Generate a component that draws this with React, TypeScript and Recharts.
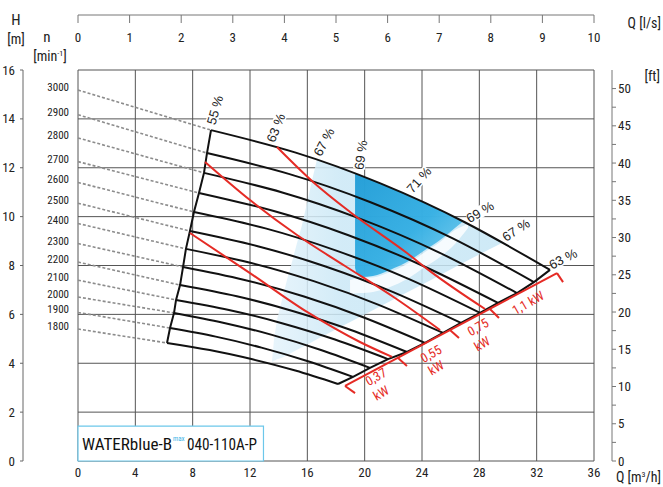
import React from 'react';
import { ComposedChart, Line, Area, Scatter, XAxis, YAxis, CartesianGrid, ReferenceArea } from 'recharts';

const FONT_N = "'Liberation Sans Narrow','Arial Narrow','Roboto Condensed','Liberation Sans',Arial,sans-serif";
const FONT = "'Liberation Sans',Arial,sans-serif";
const RED = '#e52b25';

// axes ticks
const qTicks = [0, 4, 8, 12, 16, 20, 24, 28, 32, 36];
const lsTicks = [0, 1, 2, 3, 4, 5, 6, 7, 8, 9, 10];
const hTicks = [0, 2, 4, 6, 8, 10, 12, 14, 16];
const ftTicks = [0, 2.5, 5, 7.5, 10, 12.5, 15, 17.5, 20, 22.5, 25, 27.5, 30, 32.5, 35, 37.5, 40, 42.5, 45, 47.5, 50];
const FT_MAX = 16 * 3.28084;

// speed curves
const rpm = [3000, 2900, 2800, 2700, 2600, 2500, 2400, 2300, 2200, 2100, 2000, 1900, 1800];
const shutoffH = [15.18, 14.17, 13.22, 12.25, 11.4, 10.55, 9.72, 8.9, 8.14, 7.4, 6.71, 6.08, 5.4];
const curveQ = [
  [9.28, 15.19, 21.1, 27.02, 32.93],
  [9.0, 14.7, 20.41, 26.11, 31.81],
  [8.79, 14.25, 19.71, 25.17, 30.63],
  [8.44, 13.66, 18.87, 24.09, 29.3],
  [8.09, 13.08, 18.07, 23.06, 28.05],
  [7.81, 12.54, 17.27, 21.99, 26.72],
  [7.53, 12.02, 16.5, 20.98, 25.47],
  [7.33, 11.55, 15.77, 19.99, 24.21],
  [7.12, 11.08, 15.03, 18.99, 22.95],
  [6.84, 10.53, 14.23, 17.93, 21.63],
  [6.7, 10.12, 13.53, 16.95, 20.37],
  [6.42, 9.61, 12.8, 15.99, 19.19],
  [6.21, 9.19, 12.17, 15.16, 18.14],
];
const curveH = [
  [13.54, 12.62, 11.36, 9.76, 7.82],
  [12.6, 11.75, 10.59, 9.12, 7.32],
  [11.79, 10.99, 9.91, 8.54, 6.87],
  [10.97, 10.23, 9.24, 7.98, 6.47],
  [10.19, 9.52, 8.6, 7.45, 6.06],
  [9.41, 8.79, 7.96, 6.91, 5.65],
  [8.68, 8.11, 7.35, 6.39, 5.24],
  [7.94, 7.42, 6.73, 5.86, 4.83],
  [7.2, 6.74, 6.13, 5.37, 4.46],
  [6.59, 6.18, 5.64, 4.97, 4.17],
  [6.06, 5.66, 5.16, 4.54, 3.81],
  [5.44, 5.09, 4.64, 4.09, 3.44],
  [4.83, 4.54, 4.16, 3.7, 3.15],
];

// iso-power lines
const powerQ = [
  [7.81, 12.0, 15.98, 19.67, 21.91],
  [8.86, 12.0, 15.28, 18.63, 22.12, 25.26],
  [13.88, 16.4, 18.98, 22.95, 24.56, 28.4],
];
const powerH = [
  [9.33, 7.69, 6.1, 4.87, 4.26],
  [12.24, 10.68, 9.25, 7.98, 6.67, 5.36],
  [12.85, 11.42, 10.19, 8.51, 7.77, 6.22],
];

// power scale (red dimension line) and its ticks
const scaleQ = [18.63, 33.42];
const scaleH = [3.07, 7.69];
const scaleTickQ = [[18.63, 19.33], [22.33, 22.95], [25.95, 26.58], [28.74, 29.37], [33.42, 33.84]];
const scaleTickH = [[3.07, 2.78], [4.21, 3.89], [5.36, 5.03], [6.22, 5.85], [7.69, 7.32]];
const kwText = ['0,37', 'kW', '0,55', 'kW', '0,75', 'kW', '1,1 kW'];
const kwQ = [20.79, 21.14, 24.63, 24.98, 27.91, 28.19, 31.4];
const kwH = [3.44, 2.78, 4.38, 3.81, 5.48, 4.79, 6.47];

// efficiency zones
const lightQ = [13.53, 13.67, 13.88, 14.23, 14.58, 14.93, 15.28, 15.63, 15.98, 16.33, 16.67, 18.28, 20.37, 22.47, 24.56, 26.65, 28.05, 29.65];
const lightLo = [4.05, 4.09, 4.16, 4.22, 4.33, 4.44, 4.55, 4.65, 4.76, 4.87, 4.98, 5.47, 6.11, 6.75, 7.39, 8.04, 8.47, 8.94];
const lightHi = [4.05, 4.95, 5.77, 6.59, 7.41, 8.14, 8.92, 9.66, 10.56, 11.5, 12.32, 12.0, 11.53, 11.02, 10.46, 9.87, 9.44, 8.94];
const stripeQ = [18.98, 19.67, 20.58, 21.77, 22.95, 24.21, 25.26, 26.3, 27.21];
const stripeLo = [6.83, 6.87, 6.92, 7.12, 7.45, 7.94, 8.35, 8.88, 9.53];
const stripeHi = [7.41, 7.49, 7.51, 7.73, 8.06, 8.55, 8.96, 9.45, 9.7];
const darkQ = [19.33, 19.47, 19.81, 20.58, 21.77, 22.95, 24.21, 25.26, 26.3, 26.86];
const darkLo = [7.9, 7.65, 7.53, 7.57, 7.82, 8.14, 8.63, 9.04, 9.53, 9.8];
const darkHi = [11.77, 11.74, 11.66, 11.48, 11.19, 10.89, 10.56, 10.27, 9.96, 9.8];

const effText = ['55 %', '63 %', '67 %', '69 %', '71 %', '69 %', '67 %', '63 %'];
const effQ = [9.56, 13.81, 17.16, 19.74, 23.79, 28.05, 30.56, 33.84];
const effH = [14.36, 13.63, 13.05, 12.52, 11.5, 10.19, 9.45, 8.27];
const effAngle = [-74, -68, -62, -82, -48, -30, -33, -27];

const boxQ = [0, 12.94];
const boxH = [0, 1.43];

const pts = (qs: number[], hs: number[]) => qs.map((q, i) => ({ q, h: hs[i] }));

const FtTick = (p: any) => {
  const { x, y, payload } = p;
  const v = payload.value;
  return (
    <g>
      <line x1={x} x2={x + 4} y1={y} y2={y} stroke="#777" />
      {v % 5 === 0 ? (
        <text x={x + 6} y={y + 4.5} fontSize={13} fill="#222" fontFamily={FONT_N}>{v}</text>
      ) : null}
    </g>
  );
};

const RpmLabel = (p: any) => {
  const { cx, cy, payload } = p;
  return (
    <text x={cx - 9} y={cy - 2.5} textAnchor="end" dominantBaseline="central" fontSize={11} fill="#222" fontFamily={FONT_N}>
      {payload.t}
    </text>
  );
};

const EffLabel = (p: any) => {
  const { cx, cy, payload } = p;
  const w = payload.t.length * 7;
  return (
    <g transform={`translate(${cx},${cy}) rotate(${payload.a})`}>
      <rect x={-w / 2} y={-6} width={w} height={12} fill="#fff" />
      <text x={0} y={0} textAnchor="middle" dominantBaseline="central" fontSize={13} fill="#222" fontFamily={FONT}>{payload.t}</text>
    </g>
  );
};

const KwLabel = (p: any) => {
  const { cx, cy, payload } = p;
  return (
    <g transform={`translate(${cx},${cy}) rotate(-30)`}>
      <text x={0} y={0} textAnchor="middle" dominantBaseline="central" fontSize={13} fill={RED} fontFamily={FONT_N}>{payload.t}</text>
    </g>
  );
};

const BoxLabel = (p: any) => {
  const vb = p.viewBox || {};
  const x0 = vb.x + 4;
  const yb = vb.y + vb.height / 2 + 6;
  return (
    <g>
      <text x={x0} y={yb} fontSize={16} fill="#111" fontFamily={FONT_N} textLength={90} lengthAdjust="spacingAndGlyphs">WATERblue-B</text>
      <text x={x0 + 91} y={yb - 9} fontSize={7} fill="#3ab4e6" fontFamily={FONT_N}>max</text>
      <text x={x0 + 105} y={yb} fontSize={16} fill="#111" fontFamily={FONT_N} textLength={70} lengthAdjust="spacingAndGlyphs">040-110A-P</text>
    </g>
  );
};

const noDot = { dot: false as const, activeDot: false as const, isAnimationActive: false };

export default function App() {
  const lightData = lightQ.map((q, i) => ({ q, r: [lightLo[i], lightHi[i]] }));
  const stripeData = stripeQ.map((q, i) => ({ q, r: [stripeLo[i], stripeHi[i]] }));
  const darkData = darkQ.map((q, i) => ({ q, r: [darkLo[i], darkHi[i]] }));
  const startPts = curveQ.map((qs, i) => ({ q: qs[0], h: curveH[i][0] }));
  const endPts = curveQ.map((qs, i) => ({ q: qs[qs.length - 1], h: curveH[i][curveH[i].length - 1] }));
  const rpmData = rpm.map((r, i) => ({ q: 0, h: shutoffH[i], t: String(r) }));
  const effData = effText.map((t, i) => ({ q: effQ[i], h: effH[i], t, a: effAngle[i] }));
  const kwData = kwText.map((t, i) => ({ q: kwQ[i], h: kwH[i], t }));
  const lsData = [{ q: lsTicks[0], h: 0 }, { q: lsTicks[lsTicks.length - 1], h: 0 }];

  return (
    <div style={{ position: 'absolute', left: 0, top: 0, width: 663, height: 487, background: '#fff' }}>
      <ComposedChart width={663} height={487} margin={{ top: 0, right: 0, bottom: 0, left: 0 }}>
        <defs>
          <linearGradient id="darkG" x1="0" y1="0" x2="1" y2="1">
            <stop offset="0" stopColor="#1597d4" />
            <stop offset="0.55" stopColor="#2aabe2" />
            <stop offset="1" stopColor="#7fd0ef" />
          </linearGradient>
          <linearGradient id="lightG" x1="0" y1="0" x2="1" y2="0">
            <stop offset="0" stopColor="#e4f3fb" />
            <stop offset="0.3" stopColor="#cbe8f6" />
            <stop offset="1" stopColor="#c6e6f5" />
          </linearGradient>
        </defs>
        <XAxis xAxisId="q" dataKey="q" type="number" orientation="bottom" domain={[0, 36]} ticks={qTicks} interval={0}
          height={26} axisLine={false} tickLine={false} tickSize={0} tickMargin={7}
          tick={{ fontSize: 13, fill: '#222', fontFamily: FONT_N }} />
        <XAxis xAxisId="ls" dataKey="q" type="number" orientation="top" domain={[0, 10]} ticks={lsTicks} interval={0} height={15}
          allowDataOverflow axisLine={{ stroke: '#777' }} tickLine={{ stroke: '#777' }} tickSize={-8} tickMargin={-19}
          tick={{ fontSize: 13, fill: '#222', fontFamily: FONT_N }} />
        <XAxis xAxisId="apadTop" type="number" orientation="top" domain={[0, 36]} allowDataOverflow height={55} axisLine={false} tickLine={false} tick={false} />
        <YAxis yAxisId="hl" dataKey="h" type="number" orientation="left" domain={[0, 16]} ticks={hTicks} interval={0} width={23}
          axisLine={{ stroke: '#666' }} tickLine={{ stroke: '#666' }} tickSize={3} tickMargin={5}
          tick={{ fontSize: 13, fill: '#222', fontFamily: FONT_N }} />
        <YAxis yAxisId="apad" type="number" orientation="left" domain={[0, 16]} allowDataOverflow width={55} axisLine={false} tickLine={false} tick={false} />
        <YAxis yAxisId="ft" type="number" orientation="right" domain={[0, FT_MAX]} ticks={ftTicks} interval={0} width={51}
          allowDataOverflow axisLine={{ stroke: '#777' }} tickLine={false} tickSize={0} tickMargin={0} tick={<FtTick />} />
        <YAxis yAxisId="apadR" type="number" orientation="right" domain={[0, 16]} allowDataOverflow width={18} axisLine={false} tickLine={false} tick={false} />
        <CartesianGrid xAxisId="q" yAxisId="hl" stroke="#555" strokeWidth={1} />

        <Line xAxisId="ls" yAxisId="hl" data={lsData} dataKey="h" stroke="none" {...noDot} />

        <Area xAxisId="q" yAxisId="hl" data={lightData} dataKey="r" type="linear" stroke="none" fill="url(#lightG)" fillOpacity={0.85} {...noDot} />
        <Area xAxisId="q" yAxisId="hl" data={stripeData} dataKey="r" type="monotone" stroke="none" fill="#ffffff" fillOpacity={0.8} {...noDot} />
        <Area xAxisId="q" yAxisId="hl" data={darkData} dataKey="r" type="monotone" stroke="none" fill="url(#darkG)" fillOpacity={0.9} {...noDot} />

        {curveQ.map((qs, i) => (
          <Line key={'d' + i} xAxisId="q" yAxisId="hl" data={[{ q: 0, h: shutoffH[i] }, { q: qs[0], h: curveH[i][0] }]} dataKey="h"
            type="linear" stroke="#8c8c8c" strokeWidth={1.6} strokeDasharray="3 2" {...noDot} />
        ))}
        {curveQ.map((qs, i) => (
          <Line key={'c' + i} xAxisId="q" yAxisId="hl" data={pts(qs, curveH[i])} dataKey="h"
            type="natural" stroke="#111" strokeWidth={2} {...noDot} />
        ))}
        <Line xAxisId="q" yAxisId="hl" data={startPts} dataKey="h" type="linear" stroke="#111" strokeWidth={2} {...noDot} />
        <Line xAxisId="q" yAxisId="hl" data={endPts} dataKey="h" type="linear" stroke="#111" strokeWidth={2} {...noDot} />

        {powerQ.map((qs, i) => (
          <Line key={'p' + i} xAxisId="q" yAxisId="hl" data={pts(qs, powerH[i])} dataKey="h"
            type="monotone" stroke={RED} strokeWidth={2} {...noDot} />
        ))}
        <Line xAxisId="q" yAxisId="hl" data={pts(scaleQ, scaleH)} dataKey="h" type="linear" stroke={RED} strokeWidth={2} {...noDot} />
        {scaleTickQ.map((qs, i) => (
          <Line key={'t' + i} xAxisId="q" yAxisId="hl" data={pts(qs, scaleTickH[i])} dataKey="h"
            type="linear" stroke={RED} strokeWidth={2} {...noDot} />
        ))}

        <ReferenceArea xAxisId="q" yAxisId="hl" x1={boxQ[0]} x2={boxQ[1]} y1={boxH[0]} y2={boxH[1]}
          fill="#fff" fillOpacity={1} stroke="#6cc7ea" strokeWidth={1.2} label={<BoxLabel />} />

        <Scatter xAxisId="q" yAxisId="hl" data={rpmData} dataKey="h" shape={<RpmLabel />} isAnimationActive={false} />
        <Scatter xAxisId="q" yAxisId="hl" data={effData} dataKey="h" shape={<EffLabel />} isAnimationActive={false} />
        <Scatter xAxisId="q" yAxisId="hl" data={kwData} dataKey="h" shape={<KwLabel />} isAnimationActive={false} />

        <text x={16} y={25} textAnchor="middle" fontSize={15} fill="#222" fontFamily={FONT_N}>H</text>
        <text x={16} y={44} textAnchor="middle" fontSize={14} fill="#222" fontFamily={FONT_N}>[m]</text>
        <text x={47} y={42} textAnchor="middle" fontSize={15} fill="#222" fontFamily={FONT_N}>n</text>
        <text x={50} y={61} textAnchor="middle" fontSize={14} fill="#222" fontFamily={FONT_N}>
          [min<tspan dy={-5} fontSize={8}>-1</tspan><tspan dy={5}>]</tspan>
        </text>
        <text x={661} y={28} textAnchor="end" fontSize={14} fill="#222" fontFamily={FONT_N}>Q [l/s]</text>
        <text x={660} y={81} textAnchor="end" fontSize={14} fill="#222" fontFamily={FONT_N}>[ft]</text>
        <text x={661} y={482} textAnchor="end" fontSize={14} fill="#222" fontFamily={FONT_N}>
          Q [m<tspan dy={-5} fontSize={8}>3</tspan><tspan dy={5}>/h]</tspan>
        </text>
      </ComposedChart>
    </div>
  );
}
